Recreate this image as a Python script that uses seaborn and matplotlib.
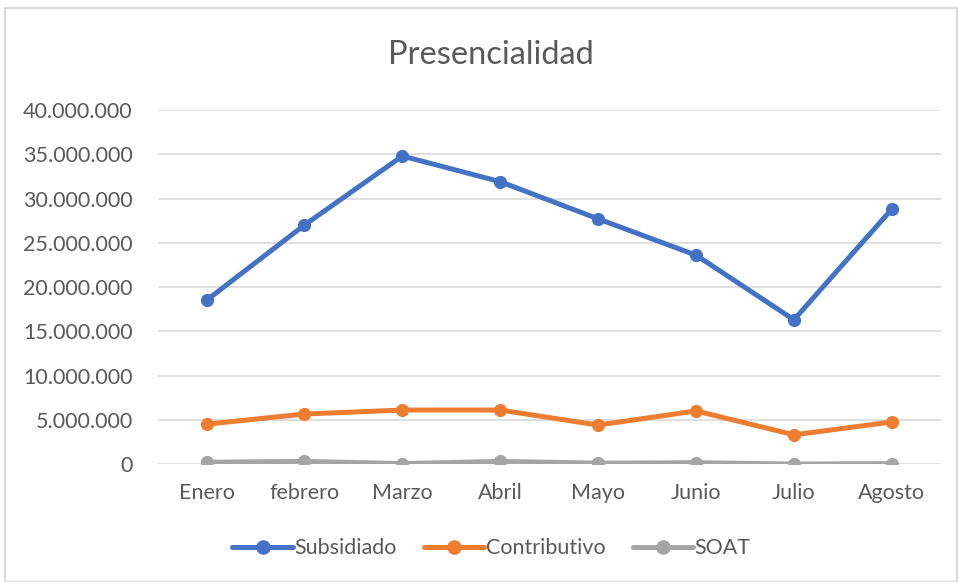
import pandas as pd
import matplotlib.pyplot as plt
import seaborn as sns
from matplotlib.ticker import FuncFormatter
from matplotlib.patches import Rectangle

meses = ["Enero", "febrero", "Marzo", "Abril", "Mayo", "Junio", "Julio", "Agosto"]
subsidiado = [18500000, 27000000, 34800000, 31900000, 27700000, 23600000, 16300000, 28800000]
contributivo = [4500000, 5650000, 6100000, 6100000, 4400000, 6000000, 3300000, 4750000]
soat = [200000, 300000, 50000, 300000, 100000, 150000, 0, 50000]
series = ["Subsidiado", "Contributivo", "SOAT"]
colores = ["#4472C4", "#ED7D31", "#A5A5A5"]

df = pd.DataFrame({"Mes": meses * 3,
                   "Serie": [s for s in series for _ in meses],
                   "Valor": subsidiado + contributivo + soat})
df["x"] = list(range(len(meses))) * 3

sns.set_style("white")
plt.rcParams['font.family'] = ['Lato', 'DejaVu Sans']

fig = plt.figure(figsize=(9.58, 5.82), dpi=100)
fig.patches.append(Rectangle((0.005, 0.0), 0.994, 0.987, transform=fig.transFigure,
                             fill=False, edgecolor="#D9D9D9", linewidth=1.5))
ax = fig.add_axes([0.1645, 0.2027, 0.8175, 0.6083])

sns.lineplot(data=df, x="x", y="Valor", hue="Serie", palette=colores,
             marker="o", markersize=9.5, markeredgewidth=0, linewidth=3.6,
             ax=ax, legend=False)

ax.set_xlim(-0.5, len(meses) - 0.5)
ax.set_ylim(0, 40000000)
ax.set_yticks(range(0, 40000001, 5000000))
ax.yaxis.set_major_formatter(FuncFormatter(lambda v, p: f"{int(v):,}".replace(",", ".")))
ax.set_xticks(range(len(meses)))
ax.set_xticklabels(meses)
ax.grid(axis="y", color="#D9D9D9", linewidth=1.2)
ax.set_axisbelow(True)
for s in ax.spines.values():
    s.set_visible(False)
ax.tick_params(axis="both", length=0, labelsize=15.5, colors="#595959")
ax.tick_params(axis="x", pad=14)
ax.tick_params(axis="y", pad=18)
ax.set_xlabel("")
ax.set_ylabel("")

fig.text(0.512, 0.905, "Presencialidad", ha="center", va="center", fontsize=23.5, color="#595959")

handles = [plt.Line2D([], [], color=c, marker="o", markersize=9.5, linewidth=3.6) for c in colores]
fig.legend(handles, series, loc="center", bbox_to_anchor=(0.513, 0.058), ncol=3, frameon=False,
           fontsize=15.5, labelcolor="#595959", handlelength=2.8, handletextpad=0.05,
           columnspacing=1.3)

plt.savefig("out.png", dpi=100)
